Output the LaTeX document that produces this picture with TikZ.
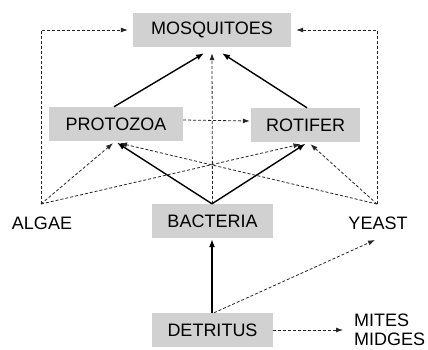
\documentclass[tikz,border=0pt]{standalone}
\usepackage{fontspec}
\setmainfont{Liberation Sans}
\usetikzlibrary{arrows.meta}
\begin{document}
\begin{tikzpicture}[x=1pt,y=-1pt,
  box/.style={fill=black!18, inner sep=0pt, minimum height=34pt, font=\fontsize{18}{20}\selectfont},
  lbl/.style={inner sep=0pt, font=\fontsize{18}{20}\selectfont},
  sol/.style={line width=1.4pt, -{Latex[length=8pt,width=6pt]}},
  dsh/.style={line width=0.8pt, black!85, dash pattern=on 3pt off 2pt, -{Latex[length=7pt,width=5pt]}}]
\useasboundingbox (0,0) rectangle (428,350);
\node[box, minimum width=158pt] (mos) at (212,30) {MOSQUITOES};
\node[box, minimum width=134pt] (pro) at (116,124) {PROTOZOA};
\node[box, minimum width=109pt] (rot) at (305.5,125) {ROTIFER};
\node[box, minimum width=121pt] (bac) at (212.5,221) {BACTERIA};
\node[box, minimum width=121pt] (det) at (212.5,330) {DETRITUS};
\node[lbl] (alg) at (42,223) {ALGAE};
\node[lbl] (yea) at (378,223) {YEAST};
\node[lbl, anchor=west] (mit) at (354,320) {MITES};
\node[lbl, anchor=west] (mid) at (354,339) {MIDGES};
\coordinate (aT) at (41,204);
\coordinate (yT) at (377,204);
\coordinate (yB) at (375,240);
\coordinate (mA) at (343,330);
% top loops
\draw[dsh] (aT) |- ([xshift=-5pt]mos.west);
\draw[dsh] (yT) |- ([xshift=5pt]mos.east);
% protozoa -> rotifer
\draw[dsh] ([yshift=4pt]pro.east) -- ([yshift=4pt,xshift=-1pt]rot.west);
% to mosquitoes
\draw[sol] ([xshift=-2pt]pro.north) -- ([xshift=-8pt,yshift=-6pt]mos.south);
\draw[sol] ([xshift=1.5pt]rot.north) -- ([xshift=10pt,yshift=-6pt]mos.south);
\draw[dsh] (bac.north) -- ([yshift=-6pt]mos.south);
% bacteria -> protozoa, rotifer
\draw[sol] ([xshift=-0.5pt]bac.north) -- ([xshift=1pt,yshift=-1.5pt]pro.south);
\draw[sol] ([xshift=-0.5pt]bac.north) -- ([xshift=0pt,yshift=-1.5pt]rot.south);
% algae, yeast
\draw[dsh] (aT) -- ([xshift=-3pt,yshift=-2pt]pro.south);
\draw[dsh] (aT) -- ([xshift=-5pt,yshift=-2pt]rot.south);
\draw[dsh] (yT) -- ([xshift=4pt,yshift=-2pt]pro.south);
\draw[dsh] (yT) -- ([xshift=5pt,yshift=-2pt]rot.south);
% detritus
\draw[sol] ([xshift=-0.5pt]det.north) -- ([xshift=-0.5pt,yshift=-1pt]bac.south);
\draw[dsh] ([xshift=1.5pt]det.north) -- (yB);
\draw[dsh] (det.east) -- (mA);
\end{tikzpicture}
\end{document}
